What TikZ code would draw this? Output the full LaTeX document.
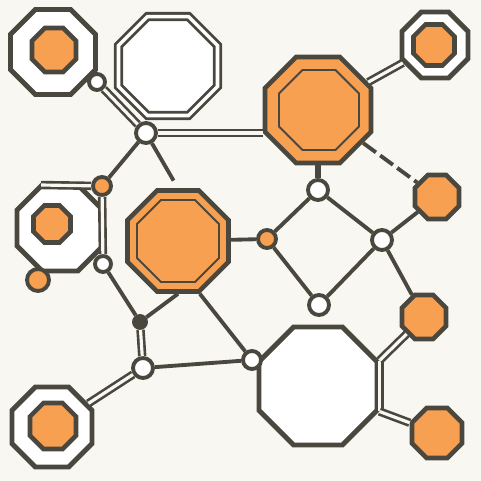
\documentclass[tikz,border=0pt]{standalone}
\usepackage{tikz}
\usetikzlibrary{shapes.geometric,positioning,calc}
\definecolor{ink}{RGB}{74,72,62}
\definecolor{orng}{RGB}{248,160,82}
\definecolor{paper}{RGB}{249,247,241}
\tikzset{
  oct/.style={
    draw=ink,
    regular polygon,
    regular polygon sides=8,
    inner sep=0pt,
    minimum size=#1*0.02165cm
  },
  ring oct/.style={oct=#1, fill=white, line width=2.8pt},
  hot oct/.style={oct=#1, fill=orng, line width=2.6pt},
  inner oct/.style={oct=#1, line width=1.1pt},
  twin oct/.style={
    oct=#1,
    fill=white,
    line width=1.6pt,
    double=white,
    double distance=2pt
  },
  blob/.style={
    circle,
    draw=ink,
    line width=2.2pt,
    inner sep=0pt,
    minimum size=#1*0.02cm
  },
  hole/.style={blob=#1, fill=white},
  spot/.style={blob=#1, fill=orng},
  knot/.style={blob=#1, fill=ink},
  bond/.style={draw=ink, line width=2.2pt},
  twin bond/.style={
    draw=ink,
    line width=1.5pt,
    double=paper,
    double distance=1.8pt
  }
}

\begin{document}
\begin{tikzpicture}[x=0.02cm, y=-0.02cm]
    \fill[paper] (0,0) rectangle (481,481);
    \useasboundingbox (0,0) rectangle (481,481);

    \path{
      node[ring oct=85] (tlo) at (53,52) {}
      node[hot oct=44] (tli) at (54,50) {}
      node[twin oct=99] (tmo) at (168,66) {}
      node[hole=16] (h1) at (97,82) {}
      node[hole=20] (h2) at (146,133) {}
      node[hot oct=106] (bo1) at (318,110) {}
      node[inner oct=80] (bo1i) at (319,110) {}
      node[ring oct=66] (tro) at (435,45) {}
      node[hot oct=41] (tri) at (434,45) {}
      node[hole=20] (h3) at (318,190) {}
      node[hot oct=44] (o2) at (437,197) {}
      node[ring oct=86] (lo) at (60,228) {}
      node[hot oct=37] (loi) at (52,224) {}
      node[spot=18] (s1) at (102,186) {}
      node[hole=16] (h4) at (103,264) {}
      node[spot=22] (s2) at (38,280) {}
      node[hot oct=101] (bo2) at (178,241) {}
      node[inner oct=82] (bo2i) at (178,241) {}
      node[spot=18] (s3) at (267,239) {}
      node[hole=20] (h5) at (382,240) {}
      node[hot oct=44] (o3) at (424,317) {}
      node[knot=12] (k1) at (140,322) {}
      node[hole=20] (h7) at (143,368) {}
      node[ring oct=118] (bw) at (318,386) {}
      node[hole=20] (h6) at (319,305) {}
      node[hole=18] (h8) at (252,360) {}
      node[ring oct=80] (blo) at (52,427) {}
      node[hot oct=46] (bli) at (53,426) {}
      node[hot oct=50] (o4) at (437,433) {}
    };

    \path[every edge/.append style={bond}]{
      (h2) edge (s1)
      (h2) edge[shorten >=5pt] (bo2.north)
      (bo1) edge[line width=3.5pt] (h3)
      (h3) edge (s3)
      (h3) edge (h5)
      (h5) edge (o2)
      (s3) edge (h6)
      (h5) edge (h6)
      (h5) edge (o3)
      (s3) edge (bo2)
      (h4) edge (k1)
      (k1) edge (bo2.south)
      (h7) edge (h8)
      (bo2.corner 6) edge (h8)
      (bo1) edge[dash pattern=on 9pt off 3pt] (o2)
    };

    % double bonds
    \path[every edge/.append style={twin bond}]{
      (h1) edge (h2)
      (h2.east) edge (h2.east -| bo1.west)
      (bo1) edge (tro)
      ([yshift=-1.4pt]lo.corner 2) edge (s1)
      (s1) edge (h4)
      (k1) edge (h7)
      (h7) edge (blo)
      (bw.corner 8) edge (bw.corner 7)
      (bw.corner 8) edge (o3)
      (bw.corner 7) edge (o4)
    };
\end{tikzpicture}
\end{document}
